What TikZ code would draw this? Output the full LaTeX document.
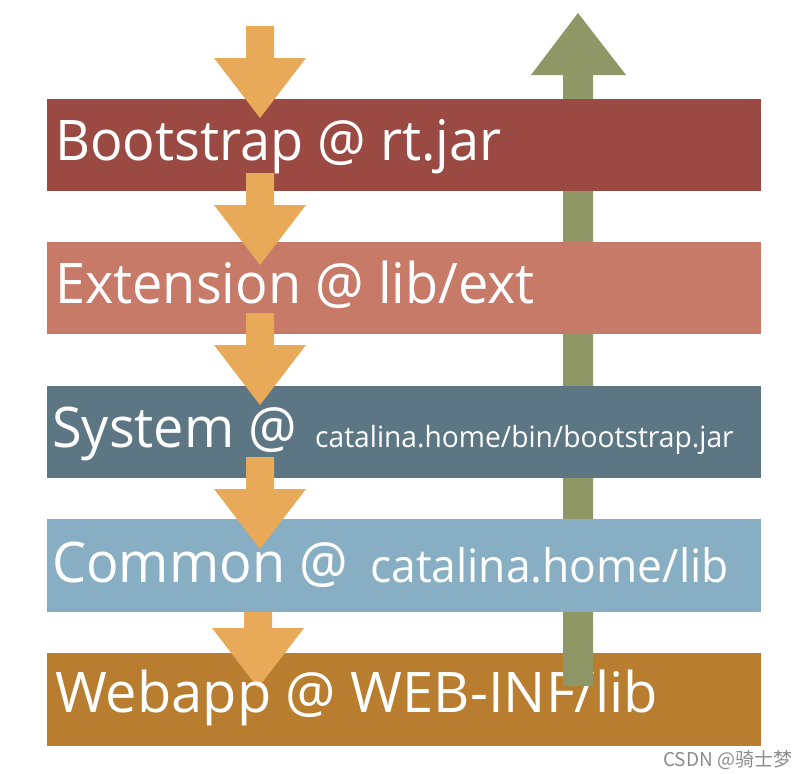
\documentclass[tikz,border=0pt]{standalone}
\usepackage{fontspec}
\newfontfamily\segfont[FakeStretch=0.965]{Open Sans}
\newfontfamily\segwide{Open Sans}
\newfontfamily\cjkfont{Noto Sans CJK SC}
\definecolor{cboot}{HTML}{9A4A42}
\definecolor{cext}{HTML}{C87A69}
\definecolor{csys}{HTML}{5C7683}
\definecolor{ccom}{HTML}{88AEC3}
\definecolor{cweb}{HTML}{B87D2E}
\definecolor{corange}{HTML}{E8A958}
\definecolor{cgreen}{HTML}{8F9766}
\tikzset{
  bandlbl/.style={anchor=base west, inner sep=0pt, text=white, font=\segfont\fontsize{56}{56}\selectfont},
  smalllbl/.style={anchor=base west, inner sep=0pt, text=white},
  downarrow/.style={fill=corange, draw=none},
}
\newcommand{\downarr}[3]{% x center, top y, name
  \fill[downarrow] (#1-14,#2) -- (#1+14,#2) -- (#1+14,#2+32) -- (#1+46,#2+32) -- (#1,#2+92) -- (#1-46,#2+32) -- (#1-14,#2+32) -- cycle;
  \coordinate (#3) at (#1,#2+92);
}
\begin{document}
\begin{tikzpicture}[x=1pt,y=-1pt]
\useasboundingbox (0,0) rectangle (809,774);
% Webapp band first (green arrow lies over it)
\fill[cweb] (47,653) rectangle (761,746);
\downarr{258}{596}{a5}
\node[bandlbl, font=\segwide\fontsize{56}{56}\selectfont] (tweb) at (55,712) {Webapp @ WEB-INF/lib};
% green upward arrow
\fill[cgreen] (563,686) -- (593,686) -- (593,75) -- (626,75) -- (578,13) -- (531,75) -- (563,75) -- cycle;
% other bands
\fill[cboot] (47,99) rectangle (761,191);
\fill[cext] (47,242) rectangle (761,334);
\fill[csys] (47,386) rectangle (761,478);
\fill[ccom] (47,519) rectangle (761,612);
% orange arrows
\downarr{260}{26}{a1}
\downarr{260}{173}{a2}
\downarr{260}{313}{a3}
\downarr{260}{457}{a4}
% labels
\node[bandlbl] (tboot) at (55,160) {Bootstrap @ rt.jar};
\node[bandlbl] (text) at (55,303) {Extension @ lib/ext};
\node[bandlbl] (tsys) at (52,447) {System @};
\node[smalllbl, font=\segfont\fontsize{29.2}{29.2}\selectfont] (tsys2) at (315,447) {catalina.home/bin/bootstrap.jar};
\node[bandlbl] (tcom) at (52,582) {Common @};
\node[smalllbl, font=\segfont\fontsize{46}{46}\selectfont] (tcom2) at (370,582) {catalina.home/lib};
% watermark
\node[anchor=base west, inner sep=0pt, text=black!45, font=\cjkfont\fontsize{19}{19}\selectfont] (wm) at (663,766) {CSDN @骑士梦};
\end{tikzpicture}
\end{document}
